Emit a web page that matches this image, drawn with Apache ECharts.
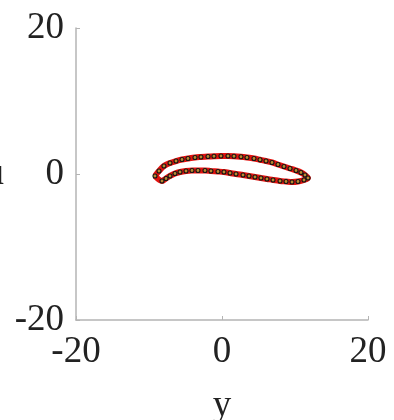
<!DOCTYPE html>
<html>
<head>
<meta charset="utf-8">
<script src="https://cdn.jsdelivr.net/npm/echarts@6/dist/echarts.min.js"></script>
<style>
  html, body { margin: 0; padding: 0; background: #fff; }
  #chart { width: 394px; height: 420px; }
</style>
</head>
<body>
<div id="chart"></div>
<script>
// Phase-plane trajectory: upper branch left to right, lower branch back again
const trajX = [-9.18, -8.63, -7.95, -7.12, -6.30, -5.48, -4.66, -3.70, -2.88, -1.92, -1.10, -0.14,
  0.82, 1.64, 2.60, 3.42, 4.38, 5.21, 6.03, 6.85, 7.67, 8.49, 9.32, 10.14, 10.82, 11.37, 11.78,
  11.23, 10.41, 9.59, 8.77, 7.95, 6.99, 6.16, 5.34, 4.52, 3.70, 2.88, 1.92, 1.10, 0.27, -0.55,
  -1.51, -2.33, -3.29, -4.11, -4.93, -5.75, -6.44, -7.12, -7.67, -8.22];
const trajY = [-0.27, 0.41, 1.10, 1.51, 1.78, 1.99, 2.12, 2.26, 2.33, 2.40, 2.44, 2.47,
  2.47, 2.44, 2.36, 2.26, 2.12, 1.95, 1.78, 1.58, 1.30, 1.03, 0.75, 0.48, 0.21, -0.14, -0.55,
  -0.82, -1.03, -1.10, -1.03, -0.96, -0.82, -0.68, -0.55, -0.41, -0.27, -0.14, 0.00, 0.14, 0.27, 0.34,
  0.41, 0.48, 0.48, 0.48, 0.41, 0.27, 0.07, -0.27, -0.62, -0.96];
const xTicks = [-20, 0, 20];
const yTicks = [-20, 0, 20];
const xName = 'y';
const yName = 'u';

const pts = trajX.map((x, i) => [x, trajY[i]]);
const loop = pts.concat([pts[0]]);

const font = '"Liberation Serif", "DejaVu Serif", serif';
const axisCol = '#b4b4b4';
const textCol = '#222';

const chart = echarts.init(document.getElementById('chart'), null, { renderer: 'canvas' });
chart.setOption({
  animation: false,
  backgroundColor: '#fff',
  grid: { left: 76, right: 26, top: 28, bottom: 100, containLabel: false, outerBoundsMode: 'none' },
  xAxis: {
    type: 'value', min: xTicks[0], max: xTicks[xTicks.length - 1], interval: 20,
    name: xName, nameLocation: 'middle', nameGap: 68,
    nameTextStyle: { fontFamily: font, fontSize: 37, color: textCol },
    axisLine: { onZero: false, lineStyle: { color: axisCol, width: 1.5 } },
    axisTick: { inside: true, length: 4, lineStyle: { color: axisCol } },
    axisLabel: { fontFamily: font, fontSize: 37, color: textCol, margin: 14 },
    splitLine: { show: false }
  },
  yAxis: {
    type: 'value', min: yTicks[0], max: yTicks[yTicks.length - 1], interval: 20,
    name: yName, nameLocation: 'middle', nameGap: 72, nameRotate: 0,
    nameTextStyle: { fontFamily: font, fontSize: 37, color: textCol },
    axisLine: { onZero: false, lineStyle: { color: axisCol, width: 1.5 } },
    axisTick: { inside: true, length: 4, lineStyle: { color: axisCol } },
    axisLabel: { fontFamily: font, fontSize: 37, color: textCol, margin: 12 },
    splitLine: { show: false }
  },
  series: [
    {
      type: 'line', data: loop, smooth: 0.3, showSymbol: false,
      lineStyle: { color: '#e2120e', width: 6 }, z: 2
    },
    {
      type: 'scatter', data: pts, symbol: 'circle', symbolSize: 4,
      itemStyle: { color: '#b88a30', borderColor: '#151515', borderWidth: 1.1, opacity: 1 }, z: 3
    }
  ]
});
</script>
</body>
</html>
